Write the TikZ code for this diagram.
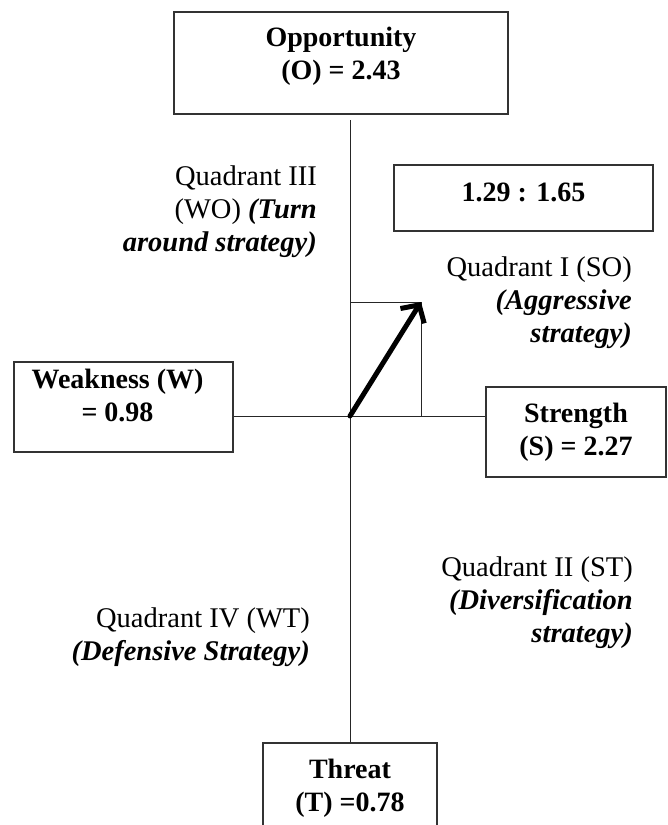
\documentclass[tikz,border=0pt]{standalone}
\usepackage{fontspec}
\setmainfont{Liberation Serif}
\usepackage{tikz}
\usetikzlibrary{arrows.meta, positioning}

\begin{document}
\begin{tikzpicture}[
  x=1pt, y=-1pt,
  box/.style={rectangle, draw=black!80, line width=1.3pt, inner sep=0pt},
  boxtxt/.style={inner sep=0pt, align=center, font=\fontsize{28}{33}\selectfont\bfseries},
  quad/.style={inner sep=0pt, align=right, anchor=east, font=\fontsize{28.5}{33}\selectfont},
  axis/.style={draw=black!85, line width=1pt},
  vec/.style={line width=5pt, line cap=round, line join=round, -{Straight Barb[length=13pt, width=28pt]}}
]
  \path[use as bounding box, clip] (0,0) rectangle (668,825);

  % factor boxes
  \node[box, minimum width=334pt, minimum height=102pt] (opp) at (341,63) {};
  \node[boxtxt, above=6.5pt of opp.center, anchor=center] (opptxt) {Opportunity\\(O) = 2.43};

  \node[box, minimum width=259pt, minimum height=66pt] (ratio) at (523.5,198) {};
  \node[boxtxt, above=6pt of ratio.center, anchor=center] (ratiotxt) {1.29 : 1.65};

  \node[box, minimum width=219pt, minimum height=90pt] (weak) at (123.5,407) {};
  \node[boxtxt, above left=11.5pt and 6pt of weak.center, anchor=center] (weaktxt) {Weakness (W)\\= 0.98};

  \node[box, minimum width=180pt, minimum height=90pt] (strong) at (576,432) {};
  \node[boxtxt] (strongtxt) at (strong.center) {Strength\\(S) = 2.27};

  \node[box, minimum width=174pt, minimum height=91pt] (threat) at (350,788.5) {};
  \node[boxtxt] (threattxt) at (threat.center) {Threat\\(T) =0.78};

  % axes and vector
  \coordinate (o) at (350,416);
  \coordinate (axtop) at (350,120);
  \coordinate (so) at (421,302);
  \draw[axis] (axtop) -- (o |- threat.north);
  \draw[axis] (o -| weak.east) -- (o -| strong.west);
  \draw[axis] (o) rectangle (so);
  \draw[vec] (o) -- (so);

  % quadrant labels
  \node[quad] (q3) at (317,212) {Quadrant III\\(WO) \textbf{\textit{(Turn}}\\\textbf{\textit{around strategy)}}};
  \node[quad] (q1) at (632,303) {Quadrant I (SO)\\\textbf{\textit{(Aggressive}}\\\textbf{\textit{strategy)}}};
  \node[quad] (q2) at (633,603) {Quadrant II (ST)\\\textbf{\textit{(Diversification}}\\\textbf{\textit{strategy)}}};
  \node[quad] (q4) at (310,637.5) {Quadrant IV (WT)\\\textbf{\textit{(Defensive Strategy)}}};
\end{tikzpicture}
\end{document}
